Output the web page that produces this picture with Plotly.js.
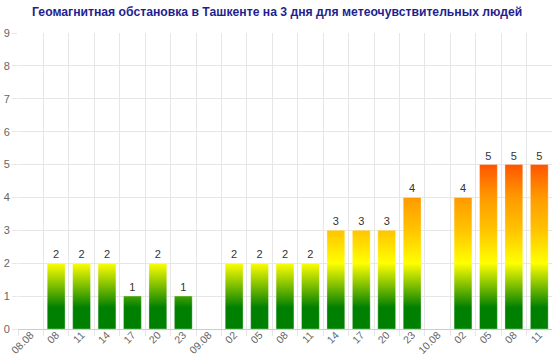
<!DOCTYPE html>
<html>
<head>
<meta charset="utf-8">
<script src="https://cdn.plot.ly/plotly-3.0.1.min.js"></script>
<style>html,body{margin:0;padding:0;background:#fff;}#chart{width:560px;height:356px;}</style>
</head>
<body>
<div id="chart"></div>
<script>
// Category tick labels (time slots; dates mark the start of each day)
const tickLabels = ['08.08','08','11','14','17','20','23','09.08','02','05','08','11','14','17','20','23','10.08','02','05','08','11'];
// Kp index values (null = no bar)
const kpValues = [null,2,2,2,1,2,1,null,2,2,2,2,3,3,3,4,null,4,5,5,5];
const titleText = 'Геомагнитная обстановка в Ташкенте на 3 дня для метеочувствительных людей';

const positions = tickLabels.map((_, i) => i);
const boundaries = positions.map(i => i - 0.5);
const halfWidth = 0.35;

// gradient bar polygons built from the data values
const gx = [], gy = [];
kpValues.forEach((v, i) => {
  if (v === null || v === undefined) return;
  gx.push(i - halfWidth, i - halfWidth, i + halfWidth, i + halfWidth, i - halfWidth, null);
  gy.push(0, v, v, 0, 0, null);
});

const traces = [
  {
    type: 'bar',
    x: positions,
    y: kpValues,
    width: 0.7,
    text: kpValues.map(v => (v === null ? '' : String(v))),
    textposition: 'outside',
    textfont: {size: 11, color: '#333333', family: 'Liberation Sans, Arial, sans-serif'},
    cliponaxis: false,
    marker: {color: 'rgba(0,0,0,0)', line: {width: 0}},
    hoverinfo: 'none',
    showlegend: false
  },
  {
    type: 'scatter',
    x: gx,
    y: gy,
    mode: 'lines',
    line: {color: 'rgba(255,255,255,0.3)', width: 1},
    fill: 'toself',
    connectgaps: false,
    fillgradient: {
      type: 'vertical',
      start: 0,
      stop: 5,
      colorscale: [
        [0, '#008000'],
        [0.13, '#008000'],
        [0.4, '#ffff00'],
        [0.6, '#ffc400'],
        [0.8, '#ff9a00'],
        [1, '#ff5500']
      ]
    },
    hoverinfo: 'none',
    showlegend: false
  }
];

const layout = {
  width: 560,
  height: 356,
  margin: {l: 18, r: 8, t: 33, b: 27, pad: 0},
  paper_bgcolor: '#ffffff',
  plot_bgcolor: '#ffffff',
  font: {family: 'Liberation Sans, Arial, sans-serif', size: 11, color: '#666666'},
  showlegend: false,
  title: {
    text: '<b>' + titleText + '</b>',
    font: {family: 'Liberation Sans, Arial, sans-serif', size: 12.2, color: '#1f1f8f'},
    x: 0.495, xref: 'container', xanchor: 'center',
    y: 1 - 12 / 356, yref: 'container', yanchor: 'middle'
  },
  xaxis: {
    range: [-0.5, 20.5],
    tickmode: 'array',
    tickvals: positions,
    ticktext: tickLabels,
    tickangle: -45,
    ticks: '',
    ticklabelstandoff: -3,
    showgrid: false,
    zeroline: false,
    showline: false,
    automargin: false,
    fixedrange: true,
    tickfont: {size: 10.5, color: '#666666'},
    minor: {
      tickmode: 'array',
      tickvals: boundaries,
      showgrid: true,
      gridcolor: '#e6e6e6',
      gridwidth: 1,
      ticks: 'outside',
      ticklen: 6,
      tickcolor: '#e6e6e6'
    }
  },
  yaxis: {
    range: [0, 9],
    tickmode: 'linear',
    tick0: 0,
    dtick: 1,
    showgrid: true,
    gridcolor: '#e6e6e6',
    gridwidth: 1,
    zeroline: true,
    zerolinecolor: '#cccccc',
    zerolinewidth: 1,
    ticks: 'outside',
    ticklen: 5,
    tickcolor: '#e6e6e6',
    automargin: false,
    fixedrange: true,
    tickfont: {size: 11, color: '#666666'}
  },
  bargap: 0.3
};

Plotly.newPlot('chart', traces, layout, {displayModeBar: false, staticPlot: true});
</script>
</body>
</html>
